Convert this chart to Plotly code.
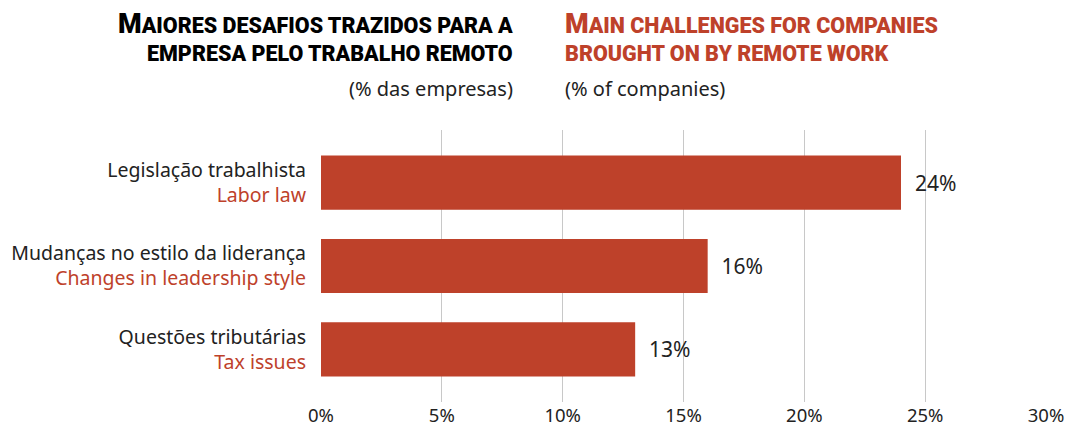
import plotly.graph_objects as go

categories_pt = ["Legislação trabalhista", "Mudanças no estilo da liderança", "Questões tributárias"]
categories_en = ["Labor law", "Changes in leadership style", "Tax issues"]
values = [24, 16, 13]
x_ticks = [0, 5, 10, 15, 20, 25, 30]
x_tick_labels = ["0%", "5%", "10%", "15%", "20%", "25%", "30%"]
title_pt = ["Maiores desafios trazidos para a", "empresa pelo trabalho remoto"]
title_en = ["Main challenges for companies", "brought on by remote work"]
subtitle_pt = "(% das empresas)"
subtitle_en = "(% of companies)"

RED = "#BE412A"
DARK = "#222222"
FONT = "Noto Sans"

ticktext = [f"{p}<br><span style='color:{RED}'>{e}</span>" for p, e in zip(categories_pt, categories_en)]
ypos = list(range(len(values)))

L, R, T, B = 313, 37, 122, 39

fig = go.Figure(go.Bar(
    x=values, y=ypos, orientation="h",
    marker=dict(color=RED, line=dict(width=0)),
    width=0.65,
    text=[f"  {v}%" for v in values], textposition="outside",
    textfont=dict(family=FONT, size=21, color=DARK),
    cliponaxis=False,
))

fig.update_layout(
    width=1075, height=433,
    margin=dict(l=L, r=R, t=T, b=B),
    plot_bgcolor="white", paper_bgcolor="white",
    showlegend=False,
    font=dict(family=FONT, color=DARK),
    xaxis=dict(range=[0, 30], tickvals=x_ticks, ticktext=x_tick_labels, automargin=False,
               showgrid=True, gridcolor="#C8C8C8", gridwidth=1, zeroline=False,
               tickfont=dict(family=FONT, size=18.5, color=DARK), ticks="", fixedrange=True),
    yaxis=dict(range=[2.63, -0.63], tickvals=ypos, ticktext=ticktext, automargin=False,
               tickfont=dict(family=FONT, size=19.5, color=DARK), ticks="",
               ticklabelstandoff=14, showgrid=False, zeroline=False),
)


def caps(s):
    # capitals stay at the full size; the rest become smaller capitals
    out = []
    buf = ""
    for ch in s:
        if ch.isupper():
            if buf:
                out.append(f"<span style='font-size:21.5px'>{buf}</span>")
                buf = ""
            out.append(ch)
        else:
            buf += ch.upper()
    if buf:
        out.append(f"<span style='font-size:21.5px'>{buf}</span>")
    return "".join(out)


title_font = dict(family="Roboto", size=27, weight=900)
PLOT_W = 1075 - L - R
x_left_block = (515 - 8 - L) / PLOT_W
x_right_block = (563 - 8 - L) / PLOT_W

for txt, shift in zip(title_pt, [106, 77]):
    fig.add_annotation(xref="paper", yref="paper", x=x_left_block, y=1.0, xanchor="right", yanchor="middle",
                       showarrow=False, yshift=shift, text=caps(txt),
                       font=dict(color="#000000", **title_font))
for txt, shift in zip(title_en, [106, 77]):
    fig.add_annotation(xref="paper", yref="paper", x=x_right_block, y=1.0, xanchor="left", yanchor="middle",
                       showarrow=False, yshift=shift, text=caps(txt),
                       font=dict(color=RED, **title_font))
fig.add_annotation(xref="paper", yref="paper", x=x_left_block, y=1.0, xanchor="right", yanchor="middle",
                   showarrow=False, yshift=42, text=subtitle_pt,
                   font=dict(family=FONT, size=20, color=DARK))
fig.add_annotation(xref="paper", yref="paper", x=x_right_block, y=1.0, xanchor="left", yanchor="middle",
                   showarrow=False, yshift=42, text=subtitle_en,
                   font=dict(family=FONT, size=20, color=DARK))

fig.write_html("out.html")
